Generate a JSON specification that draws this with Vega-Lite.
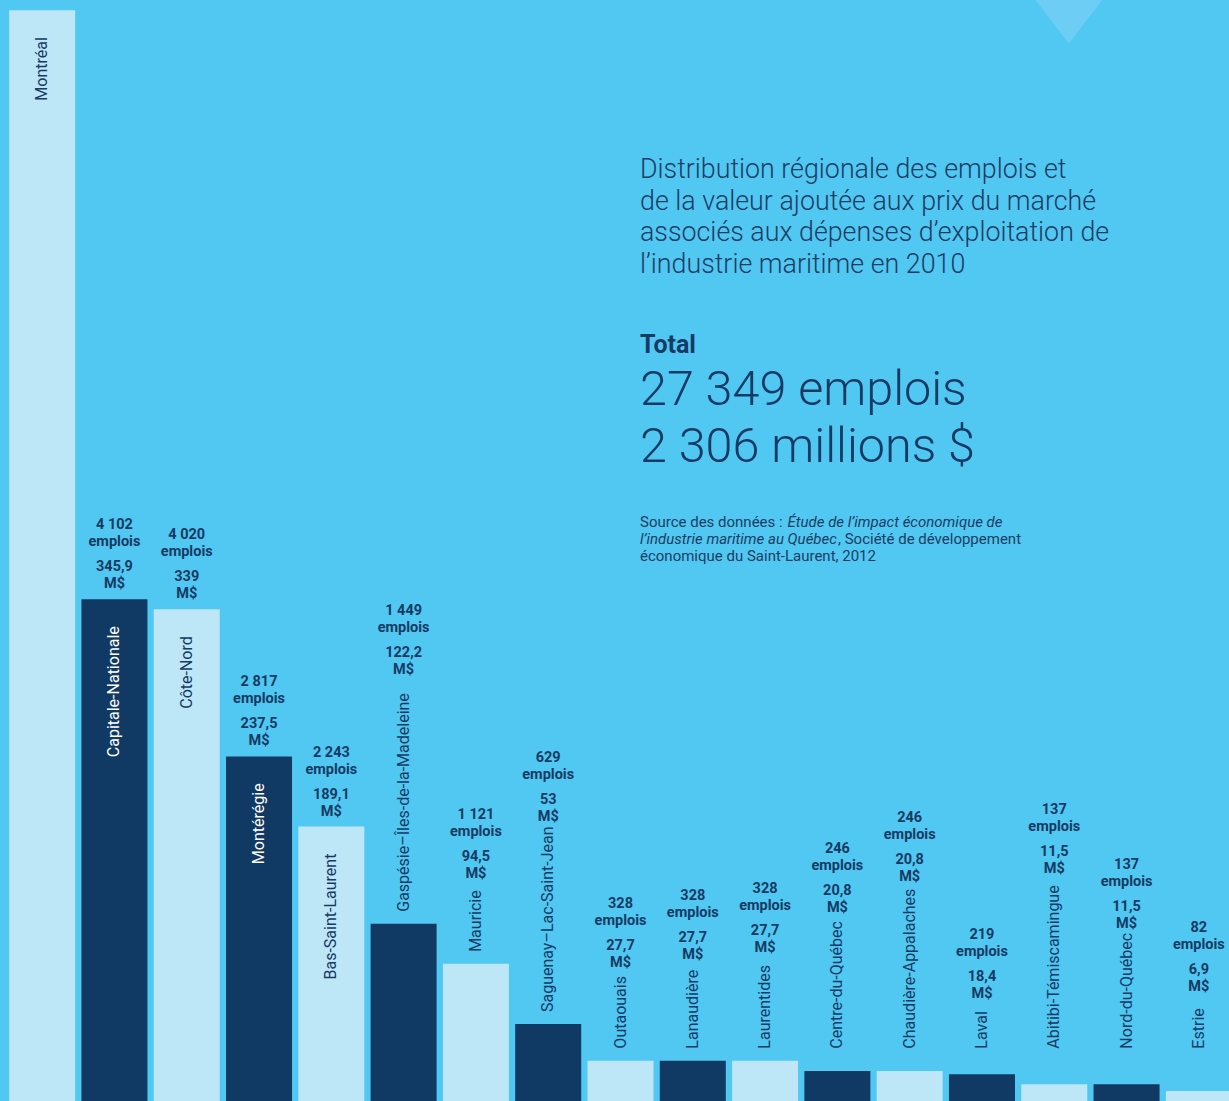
{
  "$schema": "https://vega.github.io/schema/vega-lite/v6.json",
  "width": 1229,
  "height": 1101,
  "autosize": "none",
  "padding": 0,
  "background": "#50c8f2",
  "config": {
    "view": {"stroke": null},
    "font": "Roboto",
    "locale": {"number": {"decimal": ",", "thousands": " ", "grouping": [3], "currency": ["", " $"]}}
  },
  "data": {
    "values": [
      {"region": "Montréal", "emplois": 8917, "valeur": 751.8},
      {"region": "Capitale-Nationale", "emplois": 4102, "valeur": 345.9},
      {"region": "Côte-Nord", "emplois": 4020, "valeur": 339},
      {"region": "Montérégie", "emplois": 2817, "valeur": 237.5},
      {"region": "Bas-Saint-Laurent", "emplois": 2243, "valeur": 189.1},
      {"region": "Gaspésie–Îles-de-la-Madeleine", "emplois": 1449, "valeur": 122.2},
      {"region": "Mauricie", "emplois": 1121, "valeur": 94.5},
      {"region": "Saguenay–Lac-Saint-Jean", "emplois": 629, "valeur": 53},
      {"region": "Outaouais", "emplois": 328, "valeur": 27.7},
      {"region": "Lanaudière", "emplois": 328, "valeur": 27.7},
      {"region": "Laurentides", "emplois": 328, "valeur": 27.7},
      {"region": "Centre-du-Québec", "emplois": 246, "valeur": 20.8},
      {"region": "Chaudière-Appalaches", "emplois": 246, "valeur": 20.8},
      {"region": "Laval", "emplois": 219, "valeur": 18.4},
      {"region": "Abitibi-Témiscamingue", "emplois": 137, "valeur": 11.5},
      {"region": "Nord-du-Québec", "emplois": 137, "valeur": 11.5},
      {"region": "Estrie", "emplois": 82, "valeur": 6.9}
    ]
  },
  "transform": [
    {"calculate": "max(datum.emplois, 330)", "as": "labelBase"},
    {"calculate": "datum.emplois >= 2000 ? datum.emplois + 90 : max(datum.emplois, 330) + 188 + length(datum.region) * 64", "as": "anchor"},
    {"calculate": "replace(format(datum.emplois, ','), ',', ' ')", "as": "empNombre"},
    {"calculate": "replace(format(datum.valeur, '.1~f'), '.', ',')", "as": "valNombre"}
  ],
  "layer": [
    {
      "mark": {"type": "bar"},
      "encoding": {
        "x": {
          "field": "region", "type": "nominal", "axis": null,
          "scale": {
            "domain": ["Montréal", "Capitale-Nationale", "Côte-Nord", "Montérégie", "Bas-Saint-Laurent", "Gaspésie–Îles-de-la-Madeleine", "Mauricie", "Saguenay–Lac-Saint-Jean", "Outaouais", "Lanaudière", "Laurentides", "Centre-du-Québec", "Chaudière-Appalaches", "Laval", "Abitibi-Témiscamingue", "Nord-du-Québec", "Estrie"],
            "range": [6, 1235],
            "paddingInner": 0.087,
            "paddingOuter": 0.0435
          }
        },
        "y": {"field": "emplois", "type": "quantitative", "axis": null, "scale": {"domain": [0, 9000], "nice": false, "zero": true}},
        "color": {
          "field": "region", "type": "nominal", "legend": null,
          "scale": {
            "domain": ["Montréal", "Capitale-Nationale", "Côte-Nord", "Montérégie", "Bas-Saint-Laurent", "Gaspésie–Îles-de-la-Madeleine", "Mauricie", "Saguenay–Lac-Saint-Jean", "Outaouais", "Lanaudière", "Laurentides", "Centre-du-Québec", "Chaudière-Appalaches", "Laval", "Abitibi-Témiscamingue", "Nord-du-Québec", "Estrie"],
            "range": ["#bde6f7", "#103963", "#bde6f7", "#103963", "#bde6f7", "#103963", "#bde6f7", "#103963", "#bde6f7", "#103963", "#bde6f7", "#103963", "#bde6f7", "#103963", "#bde6f7", "#103963", "#bde6f7"]
          }
        }
      }
    },
    {
      "data": {"values": [{}]},
      "mark": {"type": "point", "shape": "M-1,-1L1,-1L0,0.3Z", "filled": true, "color": "#6ecdf5", "opacity": 1, "size": 4489, "strokeWidth": 0},
      "encoding": {
        "x": {"datum": "Abitibi-Témiscamingue", "type": "nominal", "bandPosition": 0.72},
        "y": {"datum": 8726, "type": "quantitative"}
      }
    },
    {
      "transform": [{"filter": "datum.emplois >= 2000"}],
      "mark": {"type": "text", "angle": 270, "align": "right", "baseline": "middle", "dx": -27, "fontSize": 16},
      "encoding": {
        "x": {"field": "region", "type": "nominal"},
        "y": {"field": "emplois", "type": "quantitative"},
        "text": {"field": "region", "type": "nominal"},
        "color": {"condition": {"test": "datum.region == 'Capitale-Nationale' || datum.region == 'Montérégie'", "value": "#ffffff"}, "value": "#163a63"}
      }
    },
    {
      "transform": [{"filter": "datum.emplois < 2000"}],
      "mark": {"type": "text", "angle": 270, "align": "left", "baseline": "middle", "dx": 12, "fontSize": 16, "color": "#163a63"},
      "encoding": {
        "x": {"field": "region", "type": "nominal"},
        "y": {"field": "labelBase", "type": "quantitative"},
        "text": {"field": "region", "type": "nominal"}
      }
    },
    {
      "transform": [{"filter": "datum.region != 'Montréal'"}],
      "mark": {"type": "text", "align": "center", "baseline": "alphabetic", "dy": -59, "fontSize": 14.5, "fontWeight": "bold", "color": "#163a63"},
      "encoding": {
        "x": {"field": "region", "type": "nominal"},
        "y": {"field": "anchor", "type": "quantitative"},
        "text": {"field": "empNombre", "type": "nominal"}
      }
    },
    {
      "transform": [{"filter": "datum.region != 'Montréal'"}],
      "mark": {"type": "text", "align": "center", "baseline": "alphabetic", "dy": -42, "fontSize": 14.5, "fontWeight": "bold", "color": "#163a63", "text": "emplois"},
      "encoding": {
        "x": {"field": "region", "type": "nominal"},
        "y": {"field": "anchor", "type": "quantitative"}
      }
    },
    {
      "transform": [{"filter": "datum.region != 'Montréal'"}],
      "mark": {"type": "text", "align": "center", "baseline": "alphabetic", "dy": -17, "fontSize": 14.5, "fontWeight": "bold", "color": "#163a63"},
      "encoding": {
        "x": {"field": "region", "type": "nominal"},
        "y": {"field": "anchor", "type": "quantitative"},
        "text": {"field": "valNombre", "type": "nominal"}
      }
    },
    {
      "transform": [{"filter": "datum.region != 'Montréal'"}],
      "mark": {"type": "text", "align": "center", "baseline": "alphabetic", "dy": 0, "fontSize": 14.5, "fontWeight": "bold", "color": "#163a63", "text": "M$"},
      "encoding": {
        "x": {"field": "region", "type": "nominal"},
        "y": {"field": "anchor", "type": "quantitative"}
      }
    },
    {
      "data": {"values": [{}]},
      "mark": {"type": "text", "align": "left", "baseline": "top", "dx": 52.5, "fontSize": 26.8, "fontWeight": 300, "lineHeight": 31.5, "color": "#1e3c64",
        "text": ["Distribution régionale des emplois et", "de la valeur ajoutée aux prix du marché", "associés aux dépenses d’exploitation de", "l’industrie maritime en 2010"]},
      "encoding": {
        "x": {"datum": "Outaouais", "type": "nominal", "bandPosition": 0},
        "y": {"datum": 7715, "type": "quantitative"}
      }
    },
    {
      "data": {"values": [{}]},
      "mark": {"type": "text", "align": "left", "baseline": "top", "dx": 52.5, "fontSize": 25, "fontWeight": "bold", "color": "#163a63", "text": "Total"},
      "encoding": {
        "x": {"datum": "Outaouais", "type": "nominal", "bandPosition": 0},
        "y": {"datum": 6278, "type": "quantitative"}
      }
    },
    {
      "data": {"values": [{}]},
      "mark": {"type": "text", "align": "left", "baseline": "top", "dx": 52.5, "fontSize": 48.5, "fontWeight": 300, "lineHeight": 57, "color": "#163a63",
        "text": ["27 349 emplois", "2 306 millions $"]},
      "encoding": {
        "x": {"datum": "Outaouais", "type": "nominal", "bandPosition": 0},
        "y": {"datum": 6000, "type": "quantitative"}
      }
    },
    {
      "data": {"values": [{}]},
      "mark": {"type": "text", "align": "left", "baseline": "top", "dx": 52.5, "fontSize": 15, "color": "#1e3c64", "text": "Source des données :"},
      "encoding": {
        "x": {"datum": "Outaouais", "type": "nominal", "bandPosition": 0},
        "y": {"datum": 4794, "type": "quantitative"}
      }
    },
    {
      "data": {"values": [{}]},
      "mark": {"type": "text", "align": "left", "baseline": "top", "dx": 200, "fontSize": 15, "fontStyle": "italic", "color": "#1e3c64", "text": "Étude de l’impact économique de"},
      "encoding": {
        "x": {"datum": "Outaouais", "type": "nominal", "bandPosition": 0},
        "y": {"datum": 4794, "type": "quantitative"}
      }
    },
    {
      "data": {"values": [{}]},
      "mark": {"type": "text", "align": "left", "baseline": "top", "dx": 52.5, "fontSize": 15, "fontStyle": "italic", "color": "#1e3c64", "text": "l’industrie maritime au Québec"},
      "encoding": {
        "x": {"datum": "Outaouais", "type": "nominal", "bandPosition": 0},
        "y": {"datum": 4655, "type": "quantitative"}
      }
    },
    {
      "data": {"values": [{}]},
      "mark": {"type": "text", "align": "left", "baseline": "top", "dx": 250.5, "fontSize": 15, "color": "#1e3c64", "text": ", Société de développement"},
      "encoding": {
        "x": {"datum": "Outaouais", "type": "nominal", "bandPosition": 0},
        "y": {"datum": 4655, "type": "quantitative"}
      }
    },
    {
      "data": {"values": [{}]},
      "mark": {"type": "text", "align": "left", "baseline": "top", "dx": 52.5, "fontSize": 15, "color": "#1e3c64", "text": "économique du Saint-Laurent, 2012"},
      "encoding": {
        "x": {"datum": "Outaouais", "type": "nominal", "bandPosition": 0},
        "y": {"datum": 4512, "type": "quantitative"}
      }
    }
  ]
}
